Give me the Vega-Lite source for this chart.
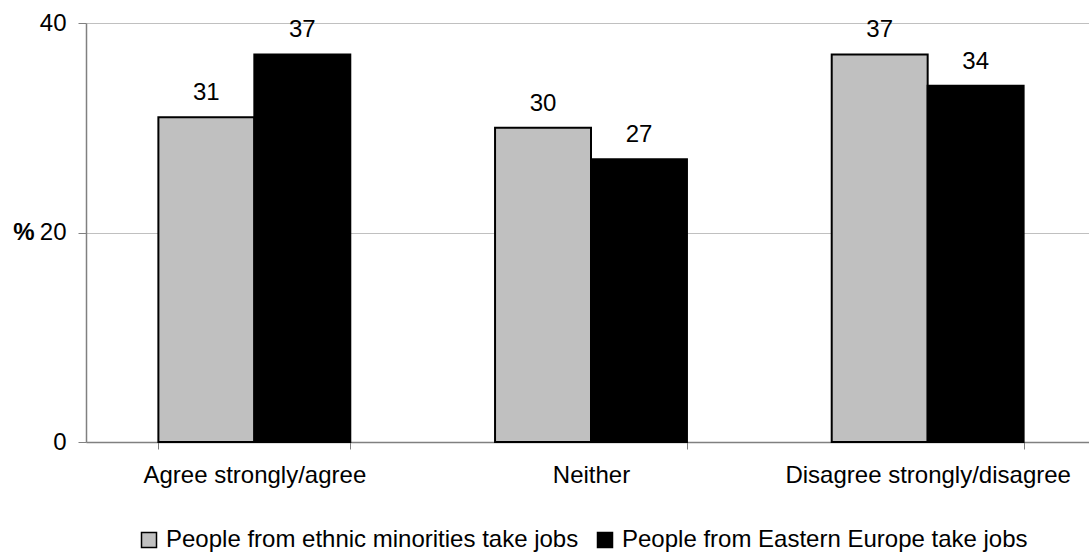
{
  "$schema": "https://vega.github.io/schema/vega-lite/v6.json",
  "autosize": {"type": "none"},
  "padding": {"left": 86, "top": 23, "right": 0, "bottom": 111},
  "width": 1003,
  "height": 419,
  "background": "white",
  "config": {
    "font": "Liberation Sans",
    "view": {"stroke": null},
    "axis": {"labelFont": "Liberation Sans", "labelFontSize": 24, "labelColor": "black", "titleFont": "Liberation Sans"},
    "legend": {"labelFont": "Liberation Sans", "labelFontSize": 24, "labelColor": "black"}
  },
  "data": {
    "values": [
      {"response": "Agree strongly/agree", "series": "People from ethnic minorities take jobs", "value": 31},
      {"response": "Agree strongly/agree", "series": "People from Eastern Europe take jobs", "value": 37},
      {"response": "Neither", "series": "People from ethnic minorities take jobs", "value": 30},
      {"response": "Neither", "series": "People from Eastern Europe take jobs", "value": 27},
      {"response": "Disagree strongly/disagree", "series": "People from ethnic minorities take jobs", "value": 37},
      {"response": "Disagree strongly/disagree", "series": "People from Eastern Europe take jobs", "value": 34}
    ]
  },
  "encoding": {
    "x": {
      "field": "response", "type": "nominal", "sort": null,
      "scale": {"paddingInner": 0.43, "paddingOuter": 0.215, "range": [0, 1010]},
      "axis": {
        "title": null, "labelAngle": 0, "tickBand": "extent", "tickSize": 7,
        "tickColor": "#808080", "domainColor": "#808080", "domainWidth": 1.5,
        "labelPadding": 14, "labelLimit": 0, "grid": false
      }
    },
    "xOffset": {"field": "series", "type": "nominal", "sort": null},
    "y": {
      "field": "value", "type": "quantitative",
      "scale": {"domain": [0, 40], "nice": false},
      "axis": {
        "values": [0, 20, 40], "grid": true, "gridColor": "#c0c0c0", "gridWidth": 1.2,
        "tickSize": 8, "tickColor": "#808080", "domainColor": "#808080", "domainWidth": 1.5,
        "labelPadding": 12,
        "title": "%", "titleAngle": 0, "titleFontSize": 24, "titleFontWeight": "bold",
        "titleAlign": "right", "titleBaseline": "middle", "titleX": -52, "titleY": 209.5,
        "titleColor": "black"
      }
    }
  },
  "layer": [
    {
      "mark": {"type": "bar", "stroke": "black", "strokeWidth": 2},
      "encoding": {
        "fill": {
          "field": "series", "type": "nominal", "sort": null,
          "scale": {"domain": ["People from ethnic minorities take jobs", "People from Eastern Europe take jobs"], "range": ["#c0c0c0", "#000000"]},
          "legend": {
            "title": null, "orient": "none", "direction": "horizontal",
            "legendX": 51, "legendY": 505,
            "symbolType": "square", "symbolSize": 225, "symbolStrokeColor": "black", "symbolStrokeWidth": 1.5,
            "labelLimit": 0, "labelOffset": 5, "columnPadding": 14
          }
        }
      }
    },
    {
      "mark": {"type": "text", "fontSize": 24, "baseline": "alphabetic", "dy": -17, "color": "black", "font": "Liberation Sans"},
      "encoding": {"text": {"field": "value", "type": "quantitative"}}
    }
  ]
}
